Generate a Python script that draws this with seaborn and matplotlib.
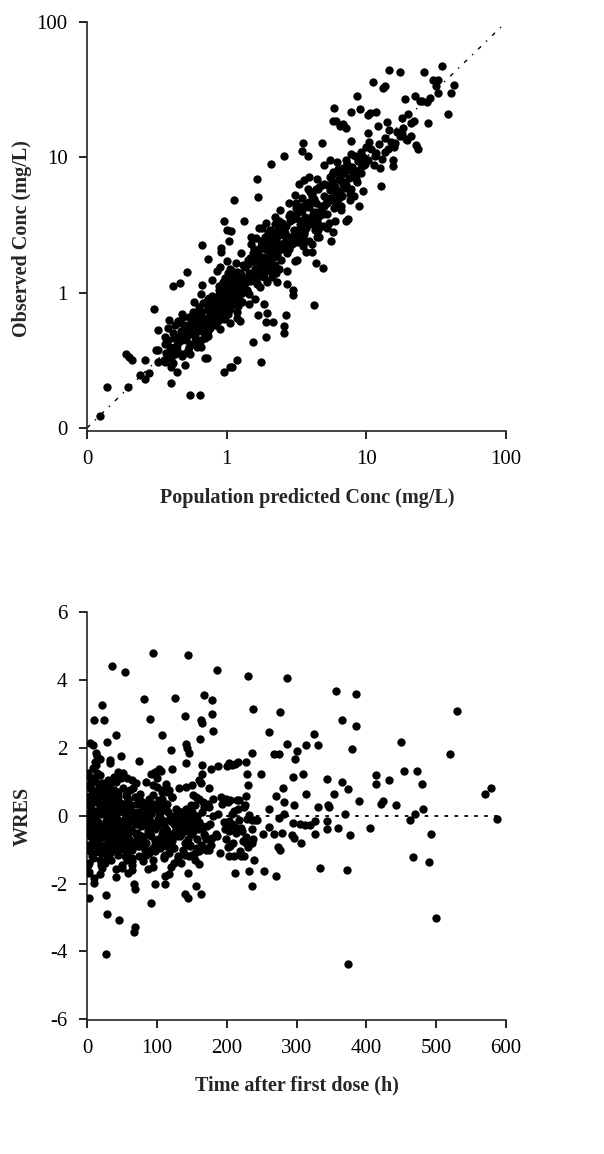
import numpy as np
import pandas as pd
import seaborn as sns
import matplotlib
matplotlib.use("Agg")
import matplotlib.pyplot as plt
from matplotlib.ticker import FixedLocator, FixedFormatter, NullLocator

# ---- top panel: observed vs population predicted (mg/L) ----
# scattered points (pred, obs)
top_outer = [
    (0.123, 0.123), (0.14, 0.20), (0.195, 0.20), (0.19, 0.355), (0.20, 0.335),
    (0.21, 0.316), (0.24, 0.245), (0.26, 0.23), (0.28, 0.257), (0.26, 0.32),
    (0.30, 0.76), (0.32, 0.53), (0.31, 0.38), (0.32, 0.38), (0.32, 0.31),
    (0.355, 0.32), (0.36, 0.47), (0.386, 0.63), (0.40, 0.214), (0.40, 0.28),
    (0.38, 0.35), (0.40, 0.35), (0.43, 0.35), (0.44, 0.26), (0.41, 1.13),
    (0.46, 1.17), (0.52, 1.41), (0.50, 0.29), (0.547, 0.174), (0.645, 0.174),
    (0.67, 2.25), (0.67, 1.14), (0.73, 1.78), (0.72, 0.33), (0.70, 0.33),
    (0.90, 0.66), (0.91, 2.15), (0.91, 2.0), (0.96, 3.39), (0.96, 0.26),
    (1.05, 0.28), (1.09, 0.28), (1.0, 2.93), (1.07, 2.85), (1.04, 2.4),
    (1.13, 4.84), (1.19, 0.65), (1.19, 0.32), (1.34, 3.39), (1.64, 6.87),
    (1.67, 5.12), (1.53, 0.43), (1.67, 0.68), (1.76, 0.31), (1.85, 0.83),
    (1.9, 0.47), (1.93, 0.71), (1.9, 0.61), (2.13, 0.61), (2.09, 8.98),
    (2.59, 10.2), (2.55, 0.57), (2.57, 0.5), (2.66, 0.68), (2.69, 1.15),
    (2.97, 0.96), (2.97, 1.05), (3.44, 11.1), (3.54, 12.8), (3.84, 10.2),
    (4.24, 0.81), (4.35, 1.67), (4.86, 1.53), (4.79, 12.8), (5.9, 23),
    (5.8, 18.5), (6.05, 18.5), (6.5, 17), (6.8, 17.5), (7.2, 16.5),
    (7.77, 21.7), (9.0, 22.6), (8.5, 28.4), (7.8, 13.2), (10.2, 20.5),
    (10.6, 21.4), (11.7, 21.7), (11.2, 36), (12.1, 17), (10.2, 15.2),
    (12.7, 6.1), (13.1, 32.5), (13.6, 33.5), (14.6, 44), (17.4, 43),
    (14.1, 18.2), (15.4, 8.6), (15.6, 9.6), (17.9, 19.5), (18.9, 26.8),
    (19.2, 13.7), (21, 14.3), (22.3, 28.2), (22.8, 12.4), (23.5, 11.5),
    (25.7, 43), (25, 26), (27, 25.5), (27.8, 17.8), (28.5, 27.5),
    (30, 37.5), (32.5, 37.5), (31.5, 33.5), (32.5, 30), (34.6, 47),
    (38.6, 20.8), (40, 30), (42, 34), (7.2, 3.4), (7.4, 3.5),
    (8.9, 4.4), (9.4, 5.6), (5.8, 2.8), (5.6, 2.4),
]

# edges of the band (above and below the identity line)
top_edge = [
    (2.2, 3.6), (2.4, 4.1), (2.8, 4.6), (3.1, 5.3), (3.3, 6.4), (3.6, 6.8),
    (3.9, 7.2), (4.4, 6.9), (5.0, 8.8), (5.5, 9.6), (2.3, 1.2), (2.7, 1.45),
    (3.2, 1.75), (3.7, 2.0), (4.1, 2.3), (4.6, 2.6), (5.2, 3.0), (6.0, 3.4),
    (6.6, 4.1), (7.6, 4.8), (1.5, 2.6), (1.7, 3.0), (1.9, 3.3), (1.6, 0.9),
    (1.45, 0.82), (1.25, 0.62), (0.85, 1.45), (0.78, 1.25), (0.65, 0.98),
    (0.58, 0.85),
]

# dense band along the line of identity
pred_core = [
    0.36, 0.37, 0.38, 0.39, 0.40, 0.41, 0.42, 0.43, 0.44, 0.45,
    0.46, 0.47, 0.48, 0.49, 0.50, 0.38, 0.41, 0.44, 0.47, 0.50,
    0.42, 0.45, 0.48, 0.36, 0.49,
    0.51, 0.52, 0.53, 0.54, 0.55, 0.56, 0.57, 0.58, 0.59, 0.60,
    0.61, 0.62, 0.63, 0.64, 0.65, 0.66, 0.67, 0.68, 0.69, 0.70,
    0.71, 0.72, 0.73, 0.74, 0.75, 0.76, 0.77, 0.78, 0.79, 0.80,
    0.53, 0.56, 0.59, 0.62, 0.65, 0.68, 0.71, 0.74, 0.77, 0.80,
    0.55, 0.60, 0.65, 0.70, 0.75,
    0.82, 0.84, 0.86, 0.88, 0.90, 0.92, 0.94, 0.96, 0.98, 1.00,
    1.02, 1.04, 1.06, 1.08, 1.10, 1.12, 1.14, 1.16, 1.18, 1.20,
    1.22, 1.24, 1.26, 1.28, 1.30, 0.83, 0.87, 0.91, 0.95, 0.99,
    1.03, 1.07, 1.11, 1.15, 1.19, 1.23, 1.27, 0.85, 0.89, 0.93,
    0.97, 1.01, 1.05, 1.09, 1.13, 1.17, 1.21, 1.25, 1.29, 0.90,
    0.95, 1.00, 1.05, 1.10, 1.15,
    1.32, 1.36, 1.40, 1.44, 1.48, 1.52, 1.56, 1.60, 1.64, 1.68,
    1.72, 1.76, 1.80, 1.84, 1.88, 1.92, 1.96, 2.00, 2.05, 2.10,
    2.15, 2.20, 2.25, 2.30, 2.35, 2.40, 2.45, 1.34, 1.42, 1.50,
    1.58, 1.66, 1.74, 1.82, 1.90, 1.98, 2.06, 2.14, 2.22, 2.30,
    2.38, 2.46, 1.38, 1.46, 1.54, 1.62, 1.70, 1.78, 1.86, 1.94,
    2.02, 2.12, 2.24, 2.36, 1.45, 1.65, 1.85, 2.05, 2.25, 2.45,
    2.55, 2.65, 2.75, 2.85, 2.95, 3.05, 3.15, 3.25, 3.35, 3.45,
    3.55, 3.65, 3.75, 3.85, 3.95, 4.05, 4.15, 4.25, 4.35, 4.45,
    4.55, 4.65, 4.75, 4.85, 4.95, 2.60, 2.80, 3.00, 3.20, 3.40,
    3.60, 3.80, 4.00, 4.20, 4.40, 4.60, 4.80, 2.70, 2.90, 3.10,
    3.30, 3.50, 3.70, 3.90, 4.10, 4.30, 4.50, 4.70, 4.90, 3.60,
    5.1, 5.3, 5.5, 5.7, 5.9, 6.1, 6.3, 6.5, 6.7, 6.9,
    7.1, 7.3, 7.5, 7.7, 7.9, 8.1, 8.3, 8.5, 8.7, 8.9,
    9.1, 9.3, 9.5, 9.7, 9.9, 5.2, 5.6, 6.0, 6.4, 6.8,
    7.2, 7.6, 8.0, 8.4, 8.8, 9.2, 9.6, 5.4, 5.8, 6.2,
    6.6, 7.0, 7.4, 7.8, 8.2,
    10.3, 10.8, 11.3, 11.8, 12.4, 13.0, 13.6, 14.2, 14.9, 15.7,
    16.5, 17.4, 18.3, 19.5, 21.0, 10.5, 11.5, 12.5, 13.5, 14.5,
    16.0, 18.0, 20.0, 22.0, 24.0,
    0.52, 0.57, 0.61, 0.66, 0.72, 0.78, 0.84, 0.89, 0.94, 0.99,
    0.54, 0.58, 0.63, 0.69, 0.74, 0.81, 0.87, 0.92, 0.97, 1.04,
    1.08, 1.13, 1.18, 1.24, 1.31, 1.37, 1.43, 1.49, 1.55, 1.61,
    1.11, 1.16, 1.21, 1.27, 1.33, 1.39, 1.46, 1.53, 1.59, 1.67,
    1.73, 1.79, 1.87, 1.95, 2.03, 2.11, 2.19, 2.28, 2.37, 2.47,
    1.75, 1.83, 1.91, 1.99, 2.08, 2.17, 2.27, 2.39, 2.52, 2.63,
    2.58, 2.72, 2.86, 3.01, 3.17, 3.33, 3.51, 3.69, 3.88, 4.08,
    2.68, 2.83, 2.99, 3.14, 3.29, 3.47, 3.66, 3.85, 4.05, 4.27,
    4.30, 4.52, 4.76, 5.00, 5.26, 5.53, 5.82, 6.12, 6.44, 6.78,
    4.42, 4.68, 4.93, 5.18, 5.45, 5.74, 6.04, 6.36, 6.70, 7.05,
    0.62, 0.68, 0.75, 0.82, 0.88, 0.93, 1.02, 1.14, 1.26, 1.41,
    1.58, 1.77, 1.97, 2.21, 2.49, 2.78, 3.12, 3.49, 3.92, 4.38,
]
obs_core = [
    0.42, 0.36, 0.55, 0.40, 0.33, 0.50, 0.46, 0.58, 0.38, 0.62,
    0.44, 0.52, 0.70, 0.35, 0.48, 0.45, 0.30, 0.41, 0.60, 0.55,
    0.39, 0.47, 0.34, 0.31, 0.66,
    0.45, 0.58, 0.38, 0.66, 0.50, 0.42, 0.72, 0.55, 0.47, 0.62,
    0.40, 0.52, 0.78, 0.60, 0.45, 0.68, 0.56, 0.84, 0.50, 0.64,
    0.58, 0.74, 0.48, 0.90, 0.66, 0.55, 0.80, 0.70, 0.95, 0.60,
    0.52, 0.64, 0.58, 0.70, 0.55, 0.62, 0.86, 0.52, 0.68, 0.76,
    0.35, 0.44, 0.40, 0.46, 0.58,
    0.70, 0.92, 0.62, 1.05, 0.80, 0.74, 1.20, 0.88, 0.66, 1.00,
    0.84, 1.10, 0.76, 1.30, 0.95, 0.82, 1.15, 1.02, 0.72, 1.25,
    0.90, 1.40, 1.08, 0.85, 1.18, 0.58, 0.78, 0.98, 0.64, 1.12,
    0.70, 0.90, 1.22, 0.88, 1.05, 0.96, 1.35, 0.82, 1.55, 0.68,
    1.28, 0.75, 1.50, 1.00, 0.86, 1.65, 0.80, 1.12, 1.00, 0.54,
    0.86, 1.70, 0.60, 1.45, 0.92,
    1.20, 1.55, 1.05, 1.40, 1.80, 1.25, 2.10, 1.50, 1.15, 1.95,
    1.65, 2.40, 1.35, 1.85, 2.60, 1.45, 2.05, 1.70, 2.90, 1.30,
    2.20, 1.60, 2.50, 1.90, 3.10, 2.30, 1.75, 1.10, 1.62, 2.30,
    1.28, 1.72, 1.10, 2.15, 1.55, 2.45, 1.90, 1.40, 2.70, 2.00,
    1.50, 2.80, 1.25, 1.35, 1.70, 2.55, 1.45, 3.00, 1.75, 1.20,
    2.35, 1.55, 2.05, 3.40, 0.98, 1.18, 1.30, 1.62, 1.40, 2.10,
    2.20, 3.10, 2.60, 3.80, 2.30, 2.90, 4.20, 2.50, 3.40, 5.00,
    2.80, 3.60, 4.50, 2.40, 3.20, 5.40, 3.80, 2.90, 4.60, 3.40,
    6.00, 3.90, 4.40, 3.10, 5.20, 2.75, 2.10, 3.50, 2.35, 4.00,
    2.70, 5.80, 3.30, 4.90, 2.60, 3.70, 6.30, 1.95, 2.55, 1.70,
    2.80, 2.20, 3.00, 4.30, 2.00, 3.60, 2.90, 4.10, 3.80, 2.45,
    4.60, 6.20, 5.00, 7.40, 4.20, 5.60, 8.20, 6.80, 5.20, 7.80,
    6.20, 9.00, 7.00, 5.80, 8.50, 7.60, 10.2, 6.60, 9.40, 8.00,
    11.0, 8.60, 10.0, 9.00, 12.0, 3.80, 4.80, 6.00, 5.00, 6.40,
    9.60, 5.40, 7.20, 6.90, 9.80, 7.60, 8.80, 3.30, 7.80, 9.20,
    4.40, 6.60, 8.00, 10.6, 5.20,
    9.50, 11.5, 8.80, 10.8, 12.5, 9.80, 14.0, 11.5, 13.0, 12.0,
    15.5, 14.5, 16.5, 13.5, 18.0, 13.0, 10.2, 8.40, 11.0, 16.0,
    12.8, 15.0, 21.0, 18.5, 26.0,
    0.48, 0.62, 0.54, 0.72, 0.60, 0.88, 0.74, 1.02, 0.82, 1.18,
    0.40, 0.50, 0.66, 0.56, 0.80, 0.64, 0.95, 0.78, 1.08, 0.92,
    1.30, 0.98, 1.42, 1.12, 1.60, 1.20, 1.75, 1.34, 1.95, 1.48,
    0.90, 1.05, 0.82, 1.02, 1.18, 1.28, 1.22, 1.70, 1.38, 1.85,
    1.55, 2.25, 1.62, 2.40, 1.80, 2.60, 2.00, 2.85, 2.10, 3.05,
    1.32, 1.48, 2.10, 1.66, 2.30, 1.85, 2.55, 2.15, 2.65, 2.35,
    2.95, 2.40, 3.40, 2.70, 3.85, 3.05, 4.20, 3.30, 4.70, 3.60,
    2.05, 2.25, 2.60, 3.55, 2.85, 4.05, 3.10, 3.50, 5.20, 3.95,
    3.70, 5.80, 4.10, 6.40, 4.60, 7.10, 5.10, 7.80, 5.60, 8.40,
    3.30, 3.90, 4.40, 4.90, 5.70, 6.60, 4.70, 6.90, 7.50, 5.90,
    0.72, 0.57, 0.92, 0.70, 1.12, 0.86, 1.40, 1.26, 1.95, 1.62,
    1.90, 2.20, 2.75, 3.20, 3.25, 3.70, 4.60, 4.40, 5.50, 5.80,
]

conc_ticks = [0.1, 1, 10, 100]
conc_labels = ["0", "1", "10", "100"]

# ---- bottom panel: WRES vs time after first dose (h) ----
wres_outer = [
    (94.6, 4.79), (145, 4.74), (36, 4.4), (55, 4.23), (186, 4.28), (231, 4.11),
    (287, 4.06), (22, 3.27), (9.6, 2.81), (24, 2.81), (82, 3.44), (90, 2.86),
    (126, 3.46), (140, 2.93), (167, 3.56), (179, 3.40), (179, 2.98), (163, 2.81),
    (164, 2.74), (181, 2.48), (162, 2.27), (107, 2.37), (41, 2.37), (29, 2.17),
    (237, 3.15), (277, 3.04), (261, 2.47), (356, 3.66), (385, 3.59), (365, 2.83),
    (385, 2.63), (529, 3.08), (450, 2.16), (519, 1.81), (379, 1.95), (325, 2.41),
    (330, 2.07), (313, 2.07), (301, 1.90), (287, 2.10), (298, 1.66), (267, 1.81),
    (275, 1.81), (236, 1.86), (227, 1.58), (229, 1.24), (249, 1.24), (295, 1.14),
    (309, 1.24), (344, 1.08), (365, 0.98), (373, 0.79), (414, 1.19), (414, 0.92),
    (433, 1.04), (454, 1.33), (473, 1.33), (480, 0.92), (570, 0.63), (579, 0.82),
    (587, -0.10), (463, -0.14), (469, 0.06), (481, 0.21), (442, 0.30), (421, 0.35),
    (424, 0.43), (390, 0.43), (370, 0.06), (360, -0.35), (376, -0.57), (405, -0.35),
    (372, -1.59), (333, -1.53), (466, -1.22), (490, -1.37), (493, -0.55), (499, -3.01),
    (374, -4.36), (313, 0.65), (330, 0.26), (345, 0.30), (346, 0.25), (353, 0.63),
    (327, -0.55), (327, -0.16), (344, -0.16), (344, -0.38), (319, -0.28), (312, -0.28),
    (305, -0.24), (295, -0.22), (294, -0.58), (297, -0.65), (306, -0.82), (296, 0.30),
    (282, 0.40), (280, 0.82), (271, 0.57), (282, 0.06), (275, -0.06), (279, -0.51),
    (274, -0.92), (276, -1.0), (270, -1.79), (267, -0.55), (261, -0.33), (260, 0.21),
    (252, -0.53), (253, -1.63), (239, -1.31), (236, -2.08), (232, -1.63), (244, -0.14),
    (240, -0.14), (236, -0.12), (232, 0.02), (236, -0.38), (237, -0.68), (236, -0.82),
    (231, -0.92), (228, 0.59), (231, 0.89), (225, 0.26), (228, -0.63), (217, -0.12),
    (215, 0.45), (212, -0.33), (207, 0.06), (204, -0.45), (202, -0.92), (219, -1.04),
    (220, -1.20), (212, -1.68), (225, -1.20), (203, -1.20), (209, -0.82), (205, 0.45),
    (199, 0.50), (200, -0.33), (200, 1.45), (203, 1.55), (208, 1.50), (212, 1.52),
    (216, 1.58), (3, -2.44), (27, -2.35), (29, -2.90), (46, -3.08), (27, -4.08),
    (69, -3.28), (67, -3.42), (69, -2.15), (67, -2.0), (91, -2.56), (98, -2.02),
    (111, -2.02), (140, -2.32), (145, -2.44), (156, -2.08), (163, -2.30), (161, -1.42),
    (145, -1.68), (111, -1.77), (118, -1.73), (87, -1.57), (42, -1.57), (42, -1.81),
    (9.6, -1.98), (9.6, -1.85), (3, -1.66), (19, -1.71), (59, -1.69), (4, 2.14),
    (8, 2.09), (13, 1.85), (15, 1.75), (18, 1.68), (11, 1.58), (13, 1.50),
    (33, 1.63), (33, 1.55), (48, 1.75), (75, 1.60), (91, 1.24), (97, 1.30),
    (103, 1.36), (106, 1.33), (113, 0.94), (120, 1.92), (122, 1.38), (142, 2.10),
    (143, 2.00), (146, 1.86), (142, 1.55), (160, 1.05), (163, 0.95), (164, 1.24),
    (165, 1.48), (177, 1.38), (188, 1.45), (174, 0.82),
]

# fringe of the early cluster
wres_edge = [
    (30, 1.05), (38, 1.15), (45, 1.30), (52, 1.25), (58, 1.10), (64, 1.05),
    (70, 0.95), (25, 0.85), (62, 0.75), (100, 0.85), (108, 0.75), (115, 0.70),
    (132, 0.80), (150, 0.90), (156, 0.55), (85, 1.00), (18, 1.20), (8, 1.00),
    (50, -1.45), (80, -1.35), (120, -1.50), (135, -1.40), (95, -1.30), (22, -1.55),
    (170, -1.00), (160, -0.95), (150, -1.15), (130, -1.20),
]

time_core = [
    1, 2, 3, 4, 5, 6, 7, 8, 9, 10,
    1, 2, 3, 4, 5, 6, 7, 8, 9, 10,
    1, 3, 5, 7, 9, 2, 4, 6, 8, 10, 1, 5, 9, 3, 7,
    11, 12, 13, 14, 15, 16, 17, 18, 19, 20,
    21, 22, 23, 24, 25, 26, 27, 28, 29, 30,
    31, 32, 33, 34, 35, 36, 37, 38, 39, 40,
    41, 42, 43, 44, 45, 46, 47, 48, 49, 50,
    51, 52, 53, 54, 55, 56, 57, 58, 59, 60,
    12, 15, 18, 21, 24, 27, 30, 33, 36, 39,
    42, 45, 48, 51, 54, 57, 60, 13, 17, 22,
    26, 31, 35, 38, 43, 47, 52, 56, 59, 14,
    19, 23, 28, 32, 37, 41, 46, 50, 55, 58,
    61, 63, 65, 67, 69, 71, 73, 75, 77, 79,
    81, 83, 85, 87, 89, 91, 93, 95, 97, 99,
    101, 103, 105, 107, 109, 62, 66, 70, 74, 78,
    82, 86, 90, 94, 98, 102, 106, 110, 64, 68,
    72, 76, 80, 84, 88, 92, 96, 100, 104, 108,
    65, 75, 85, 95, 105,
    111, 113, 115, 117, 119, 121, 123, 125, 127, 129,
    131, 133, 135, 137, 139, 141, 143, 145, 147, 149,
    151, 153, 155, 157, 159, 161, 163, 165, 167, 169,
    112, 118, 124, 130, 136, 142, 148, 154, 160, 166,
    114, 122, 128, 134, 140, 146, 152, 158, 164, 170,
    172, 175, 178, 181, 184, 187, 190, 193, 196, 199,
    202, 205, 208, 211, 214, 217, 220, 223, 226, 229,
    174, 180, 186, 192, 198, 204, 210, 216, 222, 228,
    2, 4, 6, 8, 10, 12, 14, 16, 18, 20,
    3, 5, 7, 9, 11, 13, 15, 17, 19, 21,
    22, 24, 26, 28, 30, 32, 34, 36, 38, 40,
    23, 25, 27, 29, 31, 33, 35, 37, 39, 41,
    42, 44, 46, 48, 50, 52, 54, 56, 58, 60,
    43, 45, 47, 49, 51, 53, 55, 57, 59, 61,
    62, 65, 68, 71, 74, 77, 80, 83, 86, 89,
    64, 67, 70, 73, 76, 79, 82, 85, 88, 91,
    92, 95, 98, 101, 104, 107, 110, 113, 116, 119,
    94, 97, 100, 103, 106, 109, 112, 115, 118, 121,
    122, 125, 128, 131, 134, 137, 140, 143, 146, 149,
    124, 127, 130, 133, 136, 139, 142, 145, 148, 151,
    152, 155, 158, 161, 164, 167, 170, 173, 176, 179,
    20, 35, 50, 65, 80, 95, 110, 125, 140, 155,
]
wres_core = [
    1.25, 0.55, -0.30, 0.80, -1.05, 0.20, -0.65, 1.05, -0.15, 0.45,
    -0.85, 0.05, -1.40, 0.35, -0.45, 0.95, -1.20, 0.10, 0.65, -0.75,
    0.55, -0.95, 0.30, -0.25, 1.40, -1.45, -0.55, 0.60, -0.05, -1.10,
    -1.70, 1.15, -0.35, 0.00, 0.75,
    0.60, -0.40, 0.15, -0.90, 0.45, -0.20, 0.85, -0.65, 0.30, -1.10,
    0.05, 0.70, -0.50, 0.25, -0.85, 0.50, -0.15, -1.25, 0.65, -0.35,
    0.20, -0.75, 0.95, -0.05, -0.55, 0.40, -1.00, 0.10, 0.75, -0.30,
    -0.80, 0.30, -0.10, -1.15, 0.55, -0.45, 0.15, -0.70, 1.10, -0.20,
    -0.95, 0.35, -0.40, 0.05, -1.20, 0.60, -0.60, 0.25, -0.85, 0.00,
    -0.10, 1.25, -1.30, 0.10, -0.60, 0.40, -0.95, 0.20, -0.25, -0.65,
    0.50, -1.00, -0.15, 0.80, -0.50, -1.05, 0.35, -0.75, -0.30, 0.95,
    -1.40, 0.00, -0.70, 0.55, -0.35, 0.15, -0.90, -0.20, 0.45, -0.55,
    0.20, -1.05, 0.65, -0.45, -0.80, 1.00, -0.25, 0.30, -0.60, -1.30,
    -0.40, 0.30, -1.00, -0.15, 0.55, -0.70, 0.10, -1.20, -0.30, 0.40,
    -0.85, -0.05, 0.20, -0.55, -1.10, 0.05, -0.35, 0.60, -0.75, 0.25,
    -0.20, 0.45, -0.95, 0.70, -0.45, -0.85, 0.80, -0.25, 0.05, -0.60,
    0.35, -1.05, -0.15, 0.90, -0.40, -0.70, 0.15, -1.20, -1.45, 0.10,
    -0.50, 0.65, -0.10, -0.80, 0.30, -0.60, -0.25, 1.10, -0.05, 0.50,
    -1.60, -0.90, -1.15, -0.95, -0.85,
    -1.15, -0.40, 0.35, -0.80, -0.10, 0.55, -0.95, -0.25, 0.20, -0.60,
    -0.05, -0.35, 0.10, -1.00, -0.20, -0.45, 0.05, -0.70, -0.15, 0.30,
    -0.55, -0.25, -1.10, 0.00, -0.40, 0.50, -0.85, -0.30, 0.25, -0.60,
    -0.70, 0.75, -0.50, -1.25, -0.30, 0.85, -0.90, -0.10, -1.05, 0.40,
    0.15, -0.75, -0.15, -0.55, 0.00, -1.20, 0.60, -0.95, -0.35, -0.70,
    -0.30, 0.25, -0.85, 0.50, -0.55, 0.05, -1.10, 0.35, -0.20, -0.70,
    0.40, -0.90, -0.25, 0.15, -0.50, 0.45, -0.35, -0.75, 0.30, -0.10,
    -1.00, 0.00, -0.60, 0.55, -0.40, -0.15, -1.20, 0.20, -0.45, -0.80,
    -0.20, 0.35, -0.90, 0.15, -0.55, 1.05, -0.30, 0.70, -1.00, 0.25,
    0.90, -0.60, 0.45, -1.25, -0.10, 0.40, -0.75, 0.05, -0.45, 0.60,
    -0.60, 0.15, -1.05, 0.35, -0.20, -0.85, 0.55, -0.40, -0.05, 0.20,
    0.45, -0.30, 0.05, -0.65, 0.85, -1.10, -0.15, 0.35, -0.90, -0.50,
    0.10, -0.60, 0.40, -0.25, -0.80, 0.15, -1.00, -0.35, 0.55, -0.70,
    -0.40, 0.70, -0.95, 0.20, -0.15, -0.50, 0.30, -1.15, -0.25, 0.05,
    0.15, -0.45, -0.80, 0.35, -0.15, -0.60, 0.25, -1.00, -0.30, 0.50,
    -1.25, 0.00, -0.55, -0.90, 0.45, -0.20, -0.75, 0.10, -0.45, -1.00,
    -0.40, 0.20, -0.85, -0.10, 0.40, -0.55, -0.25, -0.90, 0.10, -0.60,
    0.35, -1.05, -0.30, 0.05, -0.70, 0.25, -0.15, -0.45, -1.10, 0.55,
    -0.20, 0.00, -0.50, 0.15, -0.30, -0.10, -0.80, -0.25, 0.05, -0.50,
    -0.95, -0.35, -0.05, -0.60, -0.15, -0.40, 0.20, -0.30, -0.85, 0.10,
    -0.45, 0.30, -0.70, -0.20, 0.10, -0.55, -0.95, 0.35, -0.25, -0.65,
    -1.45, -1.30, -1.55, -1.35, -1.20, -1.50, -1.25, -1.40, -1.15, -1.30,
]

time_ticks = [0, 100, 200, 300, 400, 500, 600]
wres_ticks = [-6, -4, -2, 0, 2, 4, 6]

conc = pd.concat([
    pd.DataFrame(top_outer, columns=["pred", "obs"]),
    pd.DataFrame(top_edge, columns=["pred", "obs"]),
    pd.DataFrame({"pred": pred_core, "obs": obs_core}),
], ignore_index=True)
wres = pd.concat([
    pd.DataFrame(wres_outer, columns=["time", "wres"]),
    pd.DataFrame(wres_edge, columns=["time", "wres"]),
    pd.DataFrame({"time": time_core, "wres": wres_core}),
], ignore_index=True)

sns.set_style("ticks")
plt.rcParams["font.family"] = ["Liberation Serif", "DejaVu Serif"]
plt.rcParams["axes.unicode_minus"] = False

fig = plt.figure(figsize=(6.04, 11.54), dpi=100)
ax1 = fig.add_axes([0.144, 0.6265, 0.694, 0.3544])
ax2 = fig.add_axes([0.144, 0.1161, 0.694, 0.3536])

lab_kw = dict(fontsize=14.5, fontweight="bold")
dot_size = 36

# top
sns.scatterplot(data=conc, x="pred", y="obs", ax=ax1, color="black",
                s=dot_size, linewidth=0, zorder=3)
sns.lineplot(x=[0.1, 100], y=[0.1, 100], ax=ax1, color="black", lw=1,
             linestyle=(0, (3, 5, 1, 5)), zorder=2)
ax1.set_xscale("log")
ax1.set_yscale("log")
ax1.set_xlim(0.1, 100)
ax1.set_ylim(0.095, 100)
for axis in (ax1.xaxis, ax1.yaxis):
    axis.set_major_locator(FixedLocator(conc_ticks))
    axis.set_major_formatter(FixedFormatter(conc_labels))
    axis.set_minor_locator(NullLocator())
ax1.set_xlabel("Population predicted Conc (mg/L)", **lab_kw)
ax1.set_ylabel("Observed Conc (mg/L)", **lab_kw)
ax1.xaxis.set_label_coords(0.525, -0.14)
ax1.yaxis.set_label_coords(-0.13, 0.47)

# bottom
sns.scatterplot(data=wres, x="time", y="wres", ax=ax2, color="black",
                s=dot_size, linewidth=0, zorder=3)
ax2.axhline(0, xmin=0, xmax=590 / 600, color="black", lw=1.3,
            linestyle=(0, (2, 3.5)), zorder=2)
ax2.set_xlim(0, 600)
ax2.set_ylim(-6.02, 6)
ax2.set_xticks(time_ticks)
ax2.set_yticks(wres_ticks)
ax2.set_xticklabels([str(t) for t in time_ticks])
ax2.set_yticklabels([str(w) for w in wres_ticks])
ax2.set_xlabel("Time after first dose (h)", **lab_kw)
ax2.set_ylabel("WRES", **lab_kw)
ax2.xaxis.set_label_coords(0.5, -0.135)
ax2.yaxis.set_label_coords(-0.13, 0.5)

for ax in (ax1, ax2):
    sns.despine(ax=ax)
    ax.spines["left"].set_linewidth(1.2)
    ax.spines["bottom"].set_linewidth(1.2)
    ax.tick_params(axis="both", direction="out", length=6, width=1.2,
                   pad=8, labelsize=15, colors="black")

fig.savefig("out.png", dpi=100)
